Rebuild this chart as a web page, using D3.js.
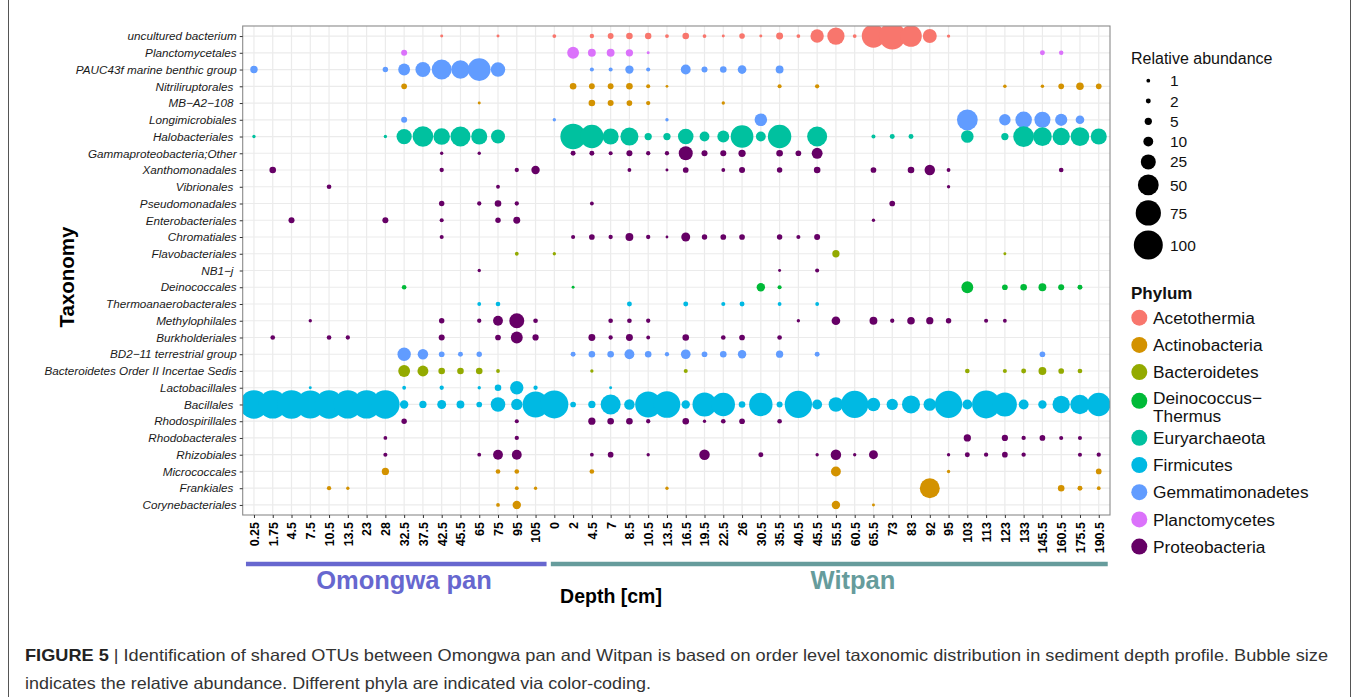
<!DOCTYPE html>
<html lang="en">
<head>
<meta charset="utf-8">
<style>
body { margin: 0; background: #fff; }
svg { display: block; font-family: "Liberation Sans", Arial, sans-serif; }
.grid line { stroke: #ebebeb; stroke-width: 1.2px; }
.axis path { display: none; }
.axis line { stroke: #333; }
.axis--y text { font-size: 11.7px; font-style: italic; fill: #1a1a1a; white-space: pre; }
.axis--x text { font-size: 12.5px; font-weight: bold; fill: #000; }
.legend text { fill: #111; }
</style>
</head>
<body>
<svg width="1358" height="697"></svg>
<script src="https://cdn.jsdelivr.net/npm/d3@7"></script>
<script>
  var omongwaDepths = ["0.25","1.75","4.5","7.5","10.5","13.5","23","28","32.5","37.5","42.5","45.5","65","75","95","105"];
  var witpanDepths = ["0","2","4.5","7","8.5","10.5","13.5","16.5","19.5","22.5","26","30.5","35.5","40.5","45.5","55.5",
                      "60.5","65.5","73","83","92","95","103","113","123","133","145.5","160.5","175.5","190.5"];

  var taxa = ["uncultured bacterium","Planctomycetales","PAUC43f marine benthic group","Nitriliruptorales ","MB\u2212A2\u2212108 ",
    "Longimicrobiales","Halobacteriales ","Gammaproteobacteria;Other","Xanthomonadales","Vibrionales ","Pseudomonadales",
    "Enterobacteriales","Chromatiales","Flavobacteriales","NB1\u2212j ","Deinococcales","Thermoanaerobacterales","Methylophilales",
    "Burkholderiales","BD2\u221211 terrestrial group","Bacteroidetes Order II Incertae Sedis","Lactobacillales","Bacillales ",
    "Rhodospirillales","Rhodobacterales","Rhizobiales","Micrococcales","Frankiales ","Corynebacteriales"];

  var phyla = ["Acetothermia","Actinobacteria","Bacteroidetes","Deinococcus\u2212Thermus","Euryarchaeota","Firmicutes",
               "Gemmatimonadetes","Planctomycetes","Proteobacteria"];
  var phylumColors = ["#F8766D","#D39200","#93AA00","#00BA38","#00C19F","#00B9E3","#619CFF","#DB72FB","#660066"];

  // phylum index for each taxon row
  var taxonPhylum = [0,7,6,1,1,6,4,8,8,8,8,8,8,2,8,3,5,8,8,6,2,5,5,8,8,8,1,1,1];

  var sizeBreaks = [1,2,5,10,25,50,75,100];

  // relative abundance per taxon: [site+depth, value]  (O = Omongwa pan, W = Witpan)
  var abundance = [
    [["O42.5",.5],["O75",.5],["W0",1],["W4.5",1.5],["W7",3],["W8.5",4],["W10.5",3.8],["W13.5",1],["W16.5",4],["W19.5",1],["W22.5",.5],["W26",2.7],["W30.5",.5],["W35.5",4.5],["W40.5",1],["W45.5",19.5],["W55.5",34],["W60.5",1],["W65.5",64],["W73",84],["W83",54],["W92",21.5],["W95",.7]],
    [["O32.5",3.2],["W2",15],["W4.5",6],["W7",6],["W8.5",5],["W10.5",.5],["W145.5",2],["W160.5",1.5]],
    [["O0.25",5.3],["O28",2.5],["O32.5",15],["O37.5",25],["O42.5",46],["O45.5",38.5],["O65",60],["O75",23],["W4.5",1.2],["W7",1.2],["W8.5",6.8],["W10.5",1.2],["W16.5",10],["W19.5",3.2],["W22.5",4],["W26",7.5],["W35.5",6]],
    [["O32.5",2.8],["W2",4],["W4.5",3],["W7",3],["W8.5",4],["W10.5",1.2],["W13.5",.4],["W35.5",1.2],["W45.5",1.4],["W123",.8],["W145.5",.8],["W160.5",2.8],["W175.5",5.5],["W190.5",2.8]],
    [["O65",.5],["W4.5",4],["W7",3.2],["W8.5",2.8],["W10.5",1.4],["W22.5",.7]],
    [["O32.5",3.2],["W0",.7],["W13.5",.7],["W30.5",17],["W103",50],["W123",14],["W133",31],["W145.5",29],["W160.5",16],["W175.5",7.5]],
    [["O0.25",.7],["O28",.7],["O32.5",26],["O37.5",49],["O42.5",31],["O45.5",46],["O65",29],["O75",21.6],["W2",76],["W4.5",64],["W7",29],["W8.5",37],["W10.5",5],["W13.5",5],["W16.5",27],["W19.5",10],["W22.5",15],["W26",60],["W30.5",10],["W35.5",64],["W45.5",46],["W65.5",1.2],["W73",2],["W83",2],["W103",17],["W123",5],["W133",50],["W145.5",40],["W160.5",34],["W175.5",40],["W190.5",29]],
    [["O42.5",.7],["O65",.7],["W2",2],["W4.5",2],["W7",1.2],["W8.5",3.2],["W10.5",1.4],["W13.5",1.4],["W16.5",21.6],["W19.5",3.2],["W22.5",3.2],["W26",5],["W35.5",4],["W40.5",2.8],["W45.5",12.5]],
    [["O1.75",4],["O42.5",1.4],["O95",1.4],["O105",7],["W8.5",1],["W13.5",.5],["W16.5",2.8],["W22.5",1],["W26",3.2],["W35.5",2.5],["W45.5",4],["W65.5",2.8],["W83",4],["W92",11.5],["W95",1],["W160.5",1.7]],
    [["O10.5",1.7],["O75",1],["W95",.7]],
    [["O42.5",2.5],["O65",1.4],["O75",4],["O95",1.4],["W4.5",1],["W73",2.8]],
    [["O4.5",3.2],["O28",3.2],["O42.5",1.2],["O75",2.5],["O95",4.5],["W65.5",.7]],
    [["O42.5",1.2],["W2",1.2],["W4.5",2.8],["W7",1.4],["W8.5",6],["W10.5",1.4],["W13.5",.4],["W16.5",8],["W19.5",2.5],["W22.5",2.8],["W26",2.8],["W35.5",2.5],["W40.5",1.2],["W45.5",3.2]],
    [["O95",1],["W0",.7],["W55.5",5],["W123",.5]],
    [["O65",.7],["W35.5",.5],["W45.5",1.2]],
    [["O32.5",1.7],["W2",.5],["W30.5",7],["W35.5",1.2],["W103",15],["W123",2.8],["W133",4],["W145.5",6],["W160.5",3.2],["W175.5",2]],
    [["O65",1],["O75",1.7],["W8.5",2],["W16.5",2],["W22.5",1.2],["W26",2],["W35.5",1],["W45.5",1]],
    [["O7.5",.7],["O42.5",2.5],["O65",1.4],["O75",10],["O95",25],["O105",1.7],["W7",1.7],["W8.5",1.7],["W10.5",1.4],["W40.5",.7],["W55.5",7.5],["W65.5",6],["W73",1.4],["W83",5.5],["W92",5],["W95",2.5],["W113",1.2],["W123",1]],
    [["O1.75",1.7],["O10.5",1.7],["O13.5",1.4],["O42.5",3.2],["O75",2.8],["O95",15],["O105",3.5],["W4.5",4.5],["W7",1.4],["W8.5",4.5],["W10.5",1],["W16.5",4],["W22.5",1.7],["W26",2.8],["W35.5",1.7]],
    [["O32.5",19.5],["O37.5",11.5],["O42.5",2.8],["O45.5",2],["O65",2.5],["W2",2],["W4.5",4],["W7",4],["W8.5",10],["W10.5",4],["W13.5",1.4],["W16.5",9.5],["W19.5",2.8],["W22.5",4],["W26",7],["W35.5",5],["W45.5",2],["W145.5",2.8]],
    [["O32.5",15],["O37.5",12.5],["O42.5",4],["O45.5",4],["O65",4],["O75",1],["W4.5",.7],["W16.5",1.2],["W103",1.7],["W123",1.2],["W133",2],["W145.5",6],["W160.5",2.8],["W175.5",1.7]],
    [["O7.5",.5],["O32.5",1],["O42.5",1.4],["O65",.7],["O75",4],["O95",19.5],["O105",1.4],["W7",.5]],
    [["O0.25",96],["O1.75",95],["O4.5",97],["O7.5",94],["O10.5",96],["O13.5",95],["O23",95],["O28",96],["O32.5",7],["O37.5",5],["O42.5",8],["O45.5",6],["O65",2.8],["O75",23.5],["O95",13.5],["O105",80],
     ["W0",93],["W2",2.8],["W4.5",5],["W7",46],["W8.5",11.5],["W10.5",80],["W13.5",84],["W16.5",7],["W19.5",67.5],["W22.5",64],["W26",4],["W30.5",64],["W35.5",3.2],["W40.5",88],["W45.5",10],["W55.5",23.5],["W60.5",88],["W65.5",19.5],["W73",13.5],["W83",37],["W92",17],["W95",88],["W103",10],["W113",93],["W123",67.5],["W133",10],["W145.5",7],["W160.5",34],["W175.5",43],["W190.5",64]],
    [["O32.5",2.5],["O95",1.2],["W4.5",5],["W7",4],["W8.5",4],["W10.5",1.4],["W16.5",4],["W19.5",.7],["W22.5",1.7],["W26",2.8],["W35.5",1.7]],
    [["O28",1],["O95",1.4],["W103",5],["W123",3.5],["W133",1.4],["W145.5",2.8],["W160.5",1.2],["W175.5",1.2]],
    [["O28",1.2],["O65",1],["O75",10],["O95",10],["W4.5",1],["W7",2.8],["W10.5",.7],["W19.5",11.5],["W30.5",2],["W45.5",.7],["W55.5",11.5],["W60.5",.7],["W65.5",8],["W95",.7],["W103",2],["W113",1.4],["W123",2.8],["W133",1.4],["W175.5",1.2],["W190.5",1.4]],
    [["O28",5],["O75",1.7],["O95",1.7],["W4.5",1.7],["W55.5",10],["W95",.7],["W190.5",2.8]],
    [["O10.5",1.4],["O13.5",.7],["O95",1],["O105",.7],["W13.5",.7],["W92",46],["W160.5",4],["W175.5",2],["W190.5",1]],
    [["O75",1],["O95",7],["W55.5",7],["W65.5",.5]]
  ];

  var svg = d3.select("svg");

  var panel = {left: 242.7, right: 1110, top: 26, bottom: 515};

  var columns = omongwaDepths.map(function(d) { return "O" + d; })
      .concat(witpanDepths.map(function(d) { return "W" + d; }));

  var x = d3.scalePoint().domain(columns).range([panel.left, panel.right]).padding(0.6),
      y = d3.scalePoint().domain(taxa).range([panel.top, panel.bottom]).padding(0.6),
      r = d3.scaleSqrt().domain([0, 100]).range([0.5, 14.5]),
      color = d3.scaleOrdinal().domain(phyla).range(phylumColors);

  var points = [];
  abundance.forEach(function(row, i) {
    row.forEach(function(p) {
      points.push({taxon: taxa[i], col: p[0], value: p[1], phylum: phyla[taxonPhylum[i]]});
    });
  });

  // panel background + grid
  svg.append("rect")
      .attr("x", panel.left).attr("y", panel.top)
      .attr("width", panel.right - panel.left).attr("height", panel.bottom - panel.top)
      .attr("fill", "#fff");

  var grid = svg.append("g").attr("class", "grid");
  grid.selectAll(".gx").data(columns).enter().append("line")
      .attr("x1", function(d) { return x(d); }).attr("x2", function(d) { return x(d); })
      .attr("y1", panel.top).attr("y2", panel.bottom);
  grid.selectAll(".gy").data(taxa).enter().append("line")
      .attr("y1", function(d) { return y(d); }).attr("y2", function(d) { return y(d); })
      .attr("x1", panel.left).attr("x2", panel.right);

  svg.append("clipPath").attr("id", "clip")
    .append("rect")
      .attr("x", panel.left).attr("y", panel.top)
      .attr("width", panel.right - panel.left).attr("height", panel.bottom - panel.top);

  svg.append("g")
      .attr("clip-path", "url(#clip)")
    .selectAll("circle")
    .data(points)
    .enter().append("circle")
      .attr("cx", function(d) { return x(d.col); })
      .attr("cy", function(d) { return y(d.taxon); })
      .attr("r", function(d) { return r(d.value); })
      .attr("fill", function(d) { return color(d.phylum); });

  svg.append("rect")
      .attr("x", panel.left).attr("y", panel.top)
      .attr("width", panel.right - panel.left).attr("height", panel.bottom - panel.top)
      .attr("fill", "none").attr("stroke", "#8a8a8a").attr("stroke-width", 1.1);

  // axes
  svg.append("g")
      .attr("class", "axis axis--y")
      .attr("transform", "translate(" + panel.left + ",0)")
      .call(d3.axisLeft(y).tickSize(3).tickPadding(3));

  svg.append("g")
      .attr("class", "axis axis--x")
      .attr("transform", "translate(0," + panel.bottom + ")")
      .call(d3.axisBottom(x).tickSize(3).tickPadding(4).tickFormat(function(d) { return d.slice(1); }))
    .selectAll("text")
      .attr("transform", "rotate(-90)")
      .attr("x", -7).attr("y", 0).attr("dy", "0.35em")
      .style("text-anchor", "end");

  svg.append("text")
      .attr("transform", "translate(74,277) rotate(-90)")
      .attr("text-anchor", "middle")
      .style("font-size", "20.5px").style("font-weight", "bold")
      .text("Taxonomy");

  // site bars
  var sites = [
    {name: "Omongwa pan", x0: x("O0.25") - 8, x1: x("O105") + 11, tx: 404, color: "#6767CF"},
    {name: "Witpan", x0: x("W0") - 3.5, x1: x("W190.5") + 9, tx: 853, color: "#669C9C"}
  ];
  sites.forEach(function(s) {
    svg.append("line")
        .attr("x1", s.x0).attr("x2", s.x1).attr("y1", 564).attr("y2", 564)
        .attr("stroke", s.color).attr("stroke-width", 4.5);
    svg.append("text")
        .attr("x", s.tx).attr("y", 588.5)
        .attr("text-anchor", "middle")
        .attr("fill", s.color)
        .style("font-size", "25.5px").style("font-weight", "bold")
        .text(s.name);
  });

  svg.append("text")
      .attr("x", 611).attr("y", 603)
      .attr("text-anchor", "middle")
      .style("font-size", "19.5px").style("font-weight", "bold")
      .text("Depth [cm]");

  // size legend
  var sizeLegend = svg.append("g").attr("class", "legend");
  sizeLegend.append("text")
      .attr("x", 1131).attr("y", 64)
      .style("font-size", "16px")
      .text("Relative abundance");
  var cy = 80.7, prevH = null;
  sizeBreaks.forEach(function(v) {
    var h = Math.max(20.3, 2 * r(v) + 5);
    if (prevH !== null) cy += (prevH + h) / 2;
    prevH = h;
    sizeLegend.append("circle").attr("cx", 1148.3).attr("cy", cy).attr("r", r(v)).attr("fill", "#000");
    sizeLegend.append("text").attr("x", 1170).attr("y", cy).attr("dy", "0.36em")
        .style("font-size", "15.5px").text(v);
  });

  // phylum legend
  var phylumLegend = svg.append("g").attr("class", "legend");
  phylumLegend.append("text")
      .attr("x", 1131).attr("y", 299)
      .style("font-size", "17px").style("font-weight", "bold")
      .text("Phylum");
  var py = 317.7;
  phyla.forEach(function(p, i) {
    var parts = p.split("\u2212");
    var twoLines = parts.length > 1;
    phylumLegend.append("circle").attr("cx", 1139.3).attr("cy", twoLines ? py + 1.5 : py)
        .attr("r", 8).attr("fill", color(p));
    var t = phylumLegend.append("text").attr("x", 1153).attr("y", twoLines ? py - 1.8 : py).attr("dy", "0.36em")
        .style("font-size", "17.3px");
    if (twoLines) {
      t.append("tspan").attr("x", 1153).text(parts[0] + "\u2212");
      t.append("tspan").attr("x", 1153).attr("dy", "1.08em").text(parts[1]);
      py += 38.5;
    } else {
      t.text(p);
      py += 27.2;
    }
  });

  // frame + caption
  svg.append("line").attr("x1", 8.5).attr("x2", 8.5).attr("y1", 0).attr("y2", 697).attr("stroke", "#555");
  svg.append("line").attr("x1", 1350.5).attr("x2", 1350.5).attr("y1", 0).attr("y2", 697).attr("stroke", "#555");

  var cap1 = svg.append("text")
      .attr("x", 25).attr("y", 661)
      .attr("textLength", 1303).attr("lengthAdjust", "spacingAndGlyphs")
      .style("font-family", "'Liberation Sans Narrow', 'Arial Narrow', 'Liberation Sans', sans-serif")
      .style("font-size", "16.5px").attr("fill", "#333");
  cap1.append("tspan").style("font-weight", "bold").attr("fill", "#222").text("FIGURE 5 ");
  cap1.append("tspan").text("| Identification of shared OTUs between Omongwa pan and Witpan is based on order level taxonomic distribution in sediment depth profile. Bubble size");

  svg.append("text")
      .attr("x", 25).attr("y", 689)
      .attr("textLength", 626).attr("lengthAdjust", "spacingAndGlyphs")
      .style("font-family", "'Liberation Sans Narrow', 'Arial Narrow', 'Liberation Sans', sans-serif")
      .style("font-size", "16.5px").attr("fill", "#333")
      .text("indicates the relative abundance. Different phyla are indicated via color-coding.");
</script>
</body>
</html>
